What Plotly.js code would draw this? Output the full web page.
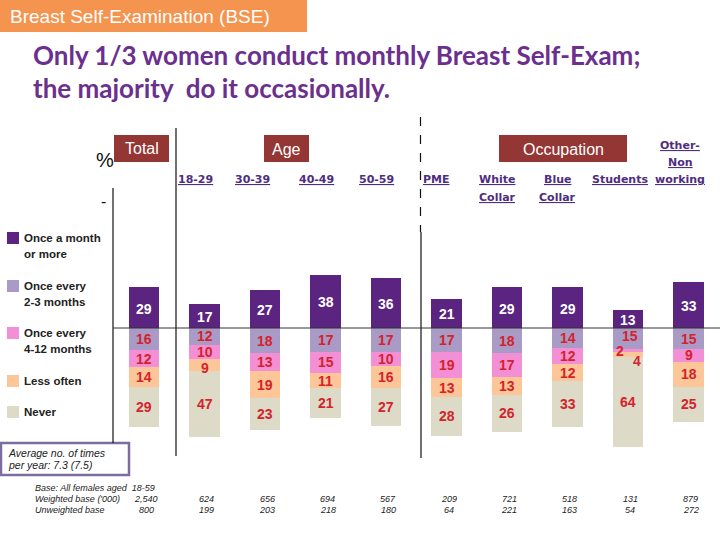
<!DOCTYPE html>
<html>
<head>
<meta charset="utf-8">
<script src="https://cdn.plot.ly/plotly-3.0.1.min.js"></script>
<style>
  html, body { margin: 0; padding: 0; background: #ffffff; }
  #chart { width: 720px; height: 540px; }
</style>
</head>
<body>
<div id="chart"></div>
<script>
// ---------- data ----------
var categories = ['Total', '18-29', '30-39', '40-49', '50-59', 'PME', 'White Collar', 'Blue Collar', 'Students', 'Other-Non working'];
var categoryLabelLines = [[], ['18-29'], ['30-39'], ['40-49'], ['50-59'], ['PME'], ['White', 'Collar'], ['Blue', 'Collar'], ['Students'], ['Other-', 'Non', 'working']];
var onceMonth = [29, 17, 27, 38, 36, 21, 29, 29, 13, 33];
var every2to3 = [16, 12, 18, 17, 17, 17, 18, 14, 15, 15];
var every4to12 = [12, 10, 13, 15, 10, 19, 17, 12, 2, 9];
var lessOften = [14, 9, 19, 11, 16, 13, 13, 12, 4, 18];
var never = [29, 47, 23, 21, 27, 28, 26, 33, 64, 25];
var weightedBase = ['2,540', '624', '656', '694', '567', '209', '721', '518', '131', '879'];
var unweightedBase = ['800', '199', '203', '218', '180', '64', '221', '163', '54', '272'];
var seriesNames = ['Once a month or more', 'Once every 2-3 months', 'Once every 4-12 months', 'Less often', 'Never'];
var legendLabels = ['Once a month<br>or more', 'Once every<br>2-3 months', 'Once every<br>4-12 months', 'Less often', 'Never'];

// ---------- styles ----------
var colors = ['#5b2480', '#a99bc6', '#f38fd4', '#fdc698', '#dddac8'];
var W = 720, H = 540;
var baseY = 328, unitPx = 1.4;          // baseline pixel and pixels per percent
var x0 = 144, step = 60.5;               // first bar center and spacing
function px(x) { return x / W; }
function py(y) { return 1 - y / H; }

var xs = categories.map(function (c, i) { return i; });
function neg(a) { return a.map(function (v) { return -v; }); }

var valueSets = [onceMonth, every2to3, every4to12, lessOften, never];
var traces = valueSets.map(function (vals, k) {
  return {
    type: 'bar',
    name: seriesNames[k],
    x: xs,
    y: k === 0 ? vals : neg(vals),
    width: 0.5,
    marker: { color: colors[k], line: { width: 0 } },
    hoverinfo: 'none'
  };
});

var annotations = [];
function ann(o) {
  var a = { showarrow: false, xanchor: 'center', yanchor: 'middle', xref: 'paper', yref: 'paper' };
  for (var key in o) a[key] = o[key];
  annotations.push(a);
}
var redText = '#d4232b';
var numFont = 'Liberation Sans, Arial';
// segment labels computed from the data
xs.forEach(function (i) {
  ann({ x: i, y: onceMonth[i] / 2, xref: 'x', yref: 'y', text: '<b>' + onceMonth[i] + '</b>', yshift: -1,
        font: { family: numFont, size: 14, color: '#ffffff' } });
  var cum = 0, smallCount = 0;
  for (var k = 1; k < valueSets.length; k++) {
    var v = valueSets[k][i];
    var next = valueSets[k + 1] ? valueSets[k + 1][i] : 99;
    var centre = -(cum + v / 2);
    var xshift = 0, yshift = 0;
    if (v < 5) {
      xshift = smallCount === 0 ? -8 : 9;
      yshift = smallCount === 0 ? -1 : -6;
      smallCount++;
    } else if (next < 5) {
      xshift = 2; yshift = 3;
    } else if (v < 11) {
      yshift = k === 3 ? -3 : 0;
    }
    ann({ x: i, y: centre, xref: 'x', yref: 'y', text: '<b>' + v + '</b>', xshift: xshift, yshift: yshift,
          font: { family: numFont, size: 14, color: redText } });
    cum += v;
  }
});

// category labels (one annotation per line)
var catLabelX = [144, 195, 253, 316, 376, 437, 497, 557, 620, 680];
var catFont = { family: 'DejaVu Sans, Verdana', size: 11, color: '#4f2d7f' };
categoryLabelLines.forEach(function (lines, i) {
  var firstY = lines.length === 3 ? 145 : 180;
  lines.forEach(function (l, j) {
    ann({ x: px(catLabelX[i]), y: py(firstY + 17 * j), text: '<u><b>' + l + '</b></u>', font: catFont });
  });
});

// base rows
var smallFont = { family: 'Liberation Sans, Arial', size: 9, color: '#222222' };
xs.forEach(function (i) {
  ann({ x: i, y: py(499), xref: 'x', text: '<i>' + weightedBase[i] + '</i>', xshift: 2, font: smallFont });
  ann({ x: i, y: py(509.5), xref: 'x', text: '<i>' + unweightedBase[i] + '</i>', xshift: 2, font: smallFont });
});
ann({ x: px(33), y: py(488), xanchor: 'left', text: '<i>Base: All females aged  18-59</i>', font: smallFont });
ann({ x: px(33), y: py(499), xanchor: 'left', text: "<i>Weighted base ('000)</i>", font: smallFont });
ann({ x: px(33), y: py(509.5), xanchor: 'left', text: '<i>Unweighted base</i>', font: smallFont });

// banner and title
ann({ x: px(8), y: py(16), xanchor: 'left', text: 'Breast Self-Examination (BSE)',
      font: { family: 'Liberation Sans, Arial', size: 19, color: '#ffffff' } });
ann({ x: px(31), y: py(55), xanchor: 'left', text: '<b>Only 1/3 women conduct monthly Breast Self-Exam;</b>',
      font: { family: 'Lato, Open Sans', size: 26, color: '#6b2f8e' } });
ann({ x: px(31), y: py(88), xanchor: 'left', text: '<b>the majority  do it occasionally.</b>',
      font: { family: 'Lato, Open Sans', size: 26, color: '#6b2f8e' } });

// header boxes text
var boxFont = { family: 'Liberation Sans, Arial', size: 16, color: '#ffffff' };
ann({ x: px(141.5), y: py(148), text: 'Total', font: boxFont });
ann({ x: px(286.5), y: py(149), text: 'Age', font: boxFont });
ann({ x: px(563), y: py(149), text: 'Occupation', font: boxFont });
ann({ x: px(105), y: py(160), text: '%', font: { family: 'Liberation Sans, Arial', size: 20, color: '#111111' } });
ann({ x: px(103), y: py(201), text: '-', font: { family: 'Liberation Sans, Arial', size: 16, color: '#111111' } });

// legend (drawn manually as in the reference)
var legendY = [238, 286, 333, 381, 412];
var shapes = [];
legendLabels.forEach(function (lab, k) {
  var lines = lab.split('<br>');
  shapes.push({ type: 'rect', xref: 'paper', yref: 'paper', x0: px(7), x1: px(19), y0: py(legendY[k] - 6), y1: py(legendY[k] + 6),
                fillcolor: colors[k], line: { width: 0 } });
  lines.forEach(function (l, j) {
    ann({ x: px(22), y: py(legendY[k] + 16 * j), xanchor: 'left', text: '<b>' + l + '</b>',
          font: { family: 'Liberation Sans, Arial', size: 11.5, color: '#222222' } });
  });
});

// average box
shapes.push({ type: 'rect', xref: 'paper', yref: 'paper', x0: px(1), x1: px(129), y0: py(443), y1: py(475),
              fillcolor: '#ffffff', line: { color: '#7d6c9c', width: 2.5 } });
ann({ x: px(6), y: py(453), xanchor: 'left', text: '<i>Average no. of times</i>',
      font: { family: 'Liberation Sans, Arial', size: 10.5, color: '#222222' } });
ann({ x: px(6), y: py(465), xanchor: 'left', text: '<i>per year: 7.3 (7.5)</i>',
      font: { family: 'Liberation Sans, Arial', size: 10.5, color: '#222222' } });

// banner and boxes
shapes.push({ type: 'rect', xref: 'paper', yref: 'paper', x0: 0, x1: px(307), y0: py(32), y1: 1, fillcolor: '#f5944f', line: { width: 0 }, layer: 'below' });
[[114, 169], [264, 309], [499, 627]].forEach(function (b) {
  shapes.push({ type: 'rect', xref: 'paper', yref: 'paper', x0: px(b[0]), x1: px(b[1]), y0: py(162), y1: py(135), fillcolor: '#943634', line: { width: 0 }, layer: 'below' });
});

// divider lines
function vline(x, y0, y1, dash) {
  shapes.push({ type: 'line', xref: 'paper', yref: 'paper', x0: px(x), x1: px(x), y0: py(y0), y1: py(y1), line: { color: '#111111', width: 1.2, dash: dash || 'solid' } });
}
vline(113, 188, 443);
vline(176, 128, 456);
vline(420.5, 117, 232, 'dash');
vline(421, 232, 458);
shapes.push({ type: 'line', xref: 'paper', yref: 'paper', x0: px(113), x1: 1, y0: py(baseY), y1: py(baseY), line: { color: '#333333', width: 1 } });

var layout = {
  width: W, height: H,
  margin: { l: 0, r: 0, t: 0, b: 0, pad: 0 },
  paper_bgcolor: '#ffffff', plot_bgcolor: 'rgba(0,0,0,0)',
  barmode: 'relative',
  bargap: 0,
  showlegend: false,
  xaxis: { range: [-x0 / step, (W - x0) / step], visible: false, fixedrange: true },
  yaxis: { range: [-(H - baseY) / unitPx, baseY / unitPx], visible: false, fixedrange: true },
  shapes: shapes,
  annotations: annotations
};

Plotly.newPlot('chart', traces, layout, { staticPlot: true, displayModeBar: false });
</script>
</body>
</html>
